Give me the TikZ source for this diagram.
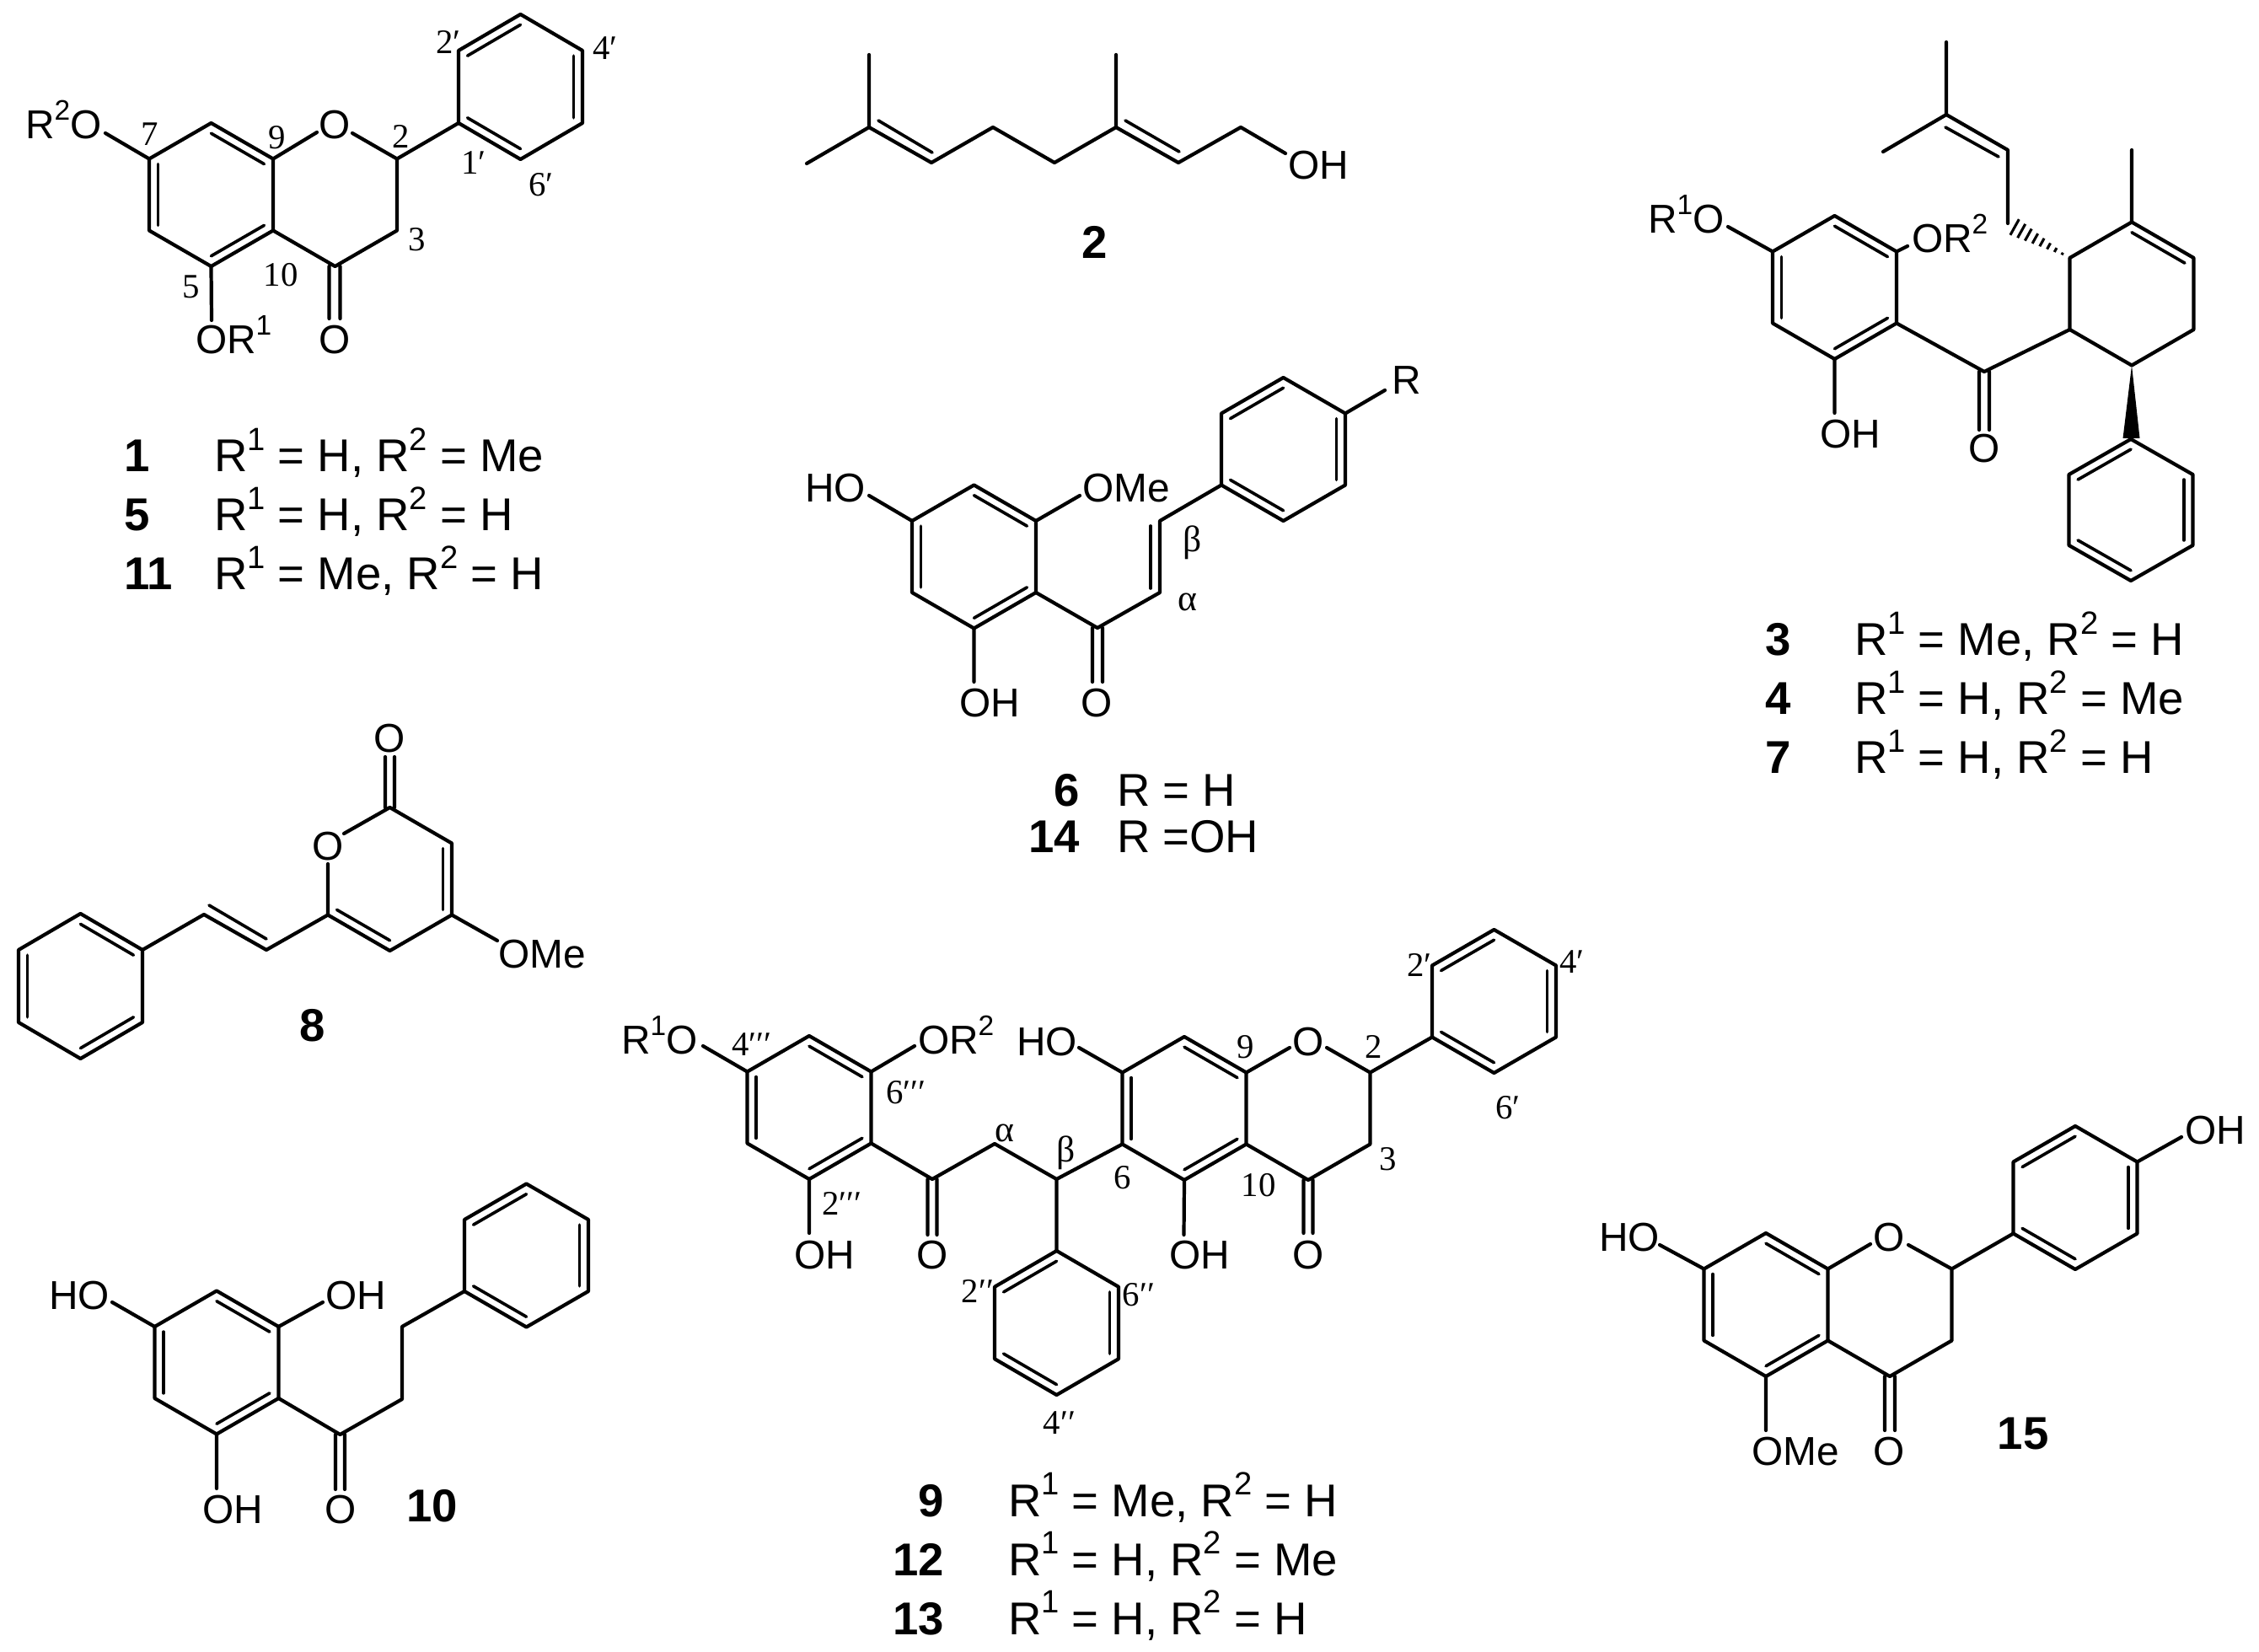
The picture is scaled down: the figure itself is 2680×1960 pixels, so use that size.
\documentclass[tikz,border=0pt]{standalone}
\usepackage{fontspec}
\setmainfont{Liberation Sans}
\newfontfamily\numfont{Liberation Serif}
\usetikzlibrary{calc}
\tikzset{
  bond/.style={line width=1.5pt,line cap=round,line join=round},
  inbond/.style={line width=1.3pt,line cap=round},
  atomtext/.style={inner sep=0pt,outer sep=0pt,font=\fontsize{17}{17}\selectfont},
  legendtext/.style={inner sep=0pt,outer sep=0pt,anchor=base west,font=\fontsize{19.4}{19.4}\selectfont},
  cmpd/.style={inner sep=0pt,outer sep=0pt,font=\fontsize{19.4}{19.4}\selectfont\bfseries},
  locant/.style={inner sep=0pt,outer sep=0pt,anchor=base,font=\fontsize{14.5}{14.5}\selectfont\numfont},
  greek/.style={inner sep=0pt,outer sep=0pt,anchor=base,font=\fontsize{15.5}{15.5}\selectfont\numfont}
}
\newcommand\chemsup[1]{\raisebox{.46em}{\scalebox{.7}{#1}}}
\newcommand\pts[1]{\foreach \n/\xx/\yy in {#1}{\coordinate (\n) at (\xx,\yy);}}
% hexagon vertices: 1 top, 2 upper right, 3 lower right, 4 bottom, 5 lower left, 6 upper left
\newcommand\hexpts[4][85]{%
  \coordinate (#2C) at (#3,#4);
  \coordinate (#21) at (#3,#4-#1);
  \coordinate (#22) at (#3+73.5,#4-#1/2);
  \coordinate (#23) at (#3+73.5,#4+#1/2);
  \coordinate (#24) at (#3,#4+#1);
  \coordinate (#25) at (#3-73.5,#4+#1/2);
  \coordinate (#26) at (#3-73.5,#4-#1/2);}
\newcommand\hexring[4][85]{\hexpts[#1]{#2}{#3}{#4}%
  \draw[bond] (#21)--(#22)--(#23)--(#24)--(#25)--(#26)--cycle;}
\newcommand\inb[3]{\draw[inbond] ($(#1#2)!.144!(#1C)$) -- ($(#1#3)!.144!(#1C)$);}
\newcommand\kekA[1]{\inb{#1}{1}{2}\inb{#1}{3}{4}\inb{#1}{5}{6}}
\newcommand\kekB[1]{\inb{#1}{6}{1}\inb{#1}{2}{3}\inb{#1}{4}{5}}
\newcommand\atomW[4]{\node[atomtext,anchor=base west] (#1) at (#2,#3) {#4};}
\newcommand\atomC[4]{\node[atomtext,anchor=base] (#1) at (#2,#3) {#4};}
\newcommand\loc[4]{\node[locant] (#1) at (#2,#3) {#4};}
\newcommand\gr[4]{\node[greek] (#1) at (#2,#3) {#4};}
\begin{document}
\begin{tikzpicture}[x=0.0125cm,y=-0.0125cm]
\useasboundingbox (0,0) rectangle (2680,1960);
\fill[white] (0,0) rectangle (2680,1960);

% ---------- 1 ----------
\hexring{oa}{250.5}{231}\kekA{oa}
\hexpts{ob}{397.5}{231}
\hexring[86]{op}{617.5}{103}\kekB{op}
\pts{oe7/125/158,oe9/376/157,oe2/418/158,oe5/251/380,oo1/390.5/316,oo2/403.5/316,oo3/390.5/378,oo4/403.5/378}
\draw[bond] (oa6)--(oe7) (oa2)--(oe9) (ob2)--(oe2) (oa3)--(ob4)--(ob3)--(ob2)--(op5) (oa4)--(oe5) (oo1)--(oo3) (oo2)--(oo4);
\atomW{oR2O}{30}{165}{R\chemsup{2}O}
\atomW{oOR1}{232}{420}{OR\chemsup{1}}
\atomC{oO4}{397}{420}{O}
\atomC{oO1}{397}{165}{O}
\loc{ol7}{178}{173}{7}\loc{ol9}{329}{177}{9}\loc{ol2}{476}{176}{2}\loc{ol3}{495}{298}{3}
\loc{ol10}{333}{340}{10}\loc{ol5}{227}{354}{5}
\loc{ol1p}{562}{207}{1′}\loc{ol2p}{532}{64}{2′}\loc{ol4p}{718}{71}{4′}\loc{ol6p}{642}{233}{6′}
\node[cmpd,anchor=base west] (c1) at (147,560) {1};
\node[cmpd,anchor=base west] (c5) at (147,630) {5};
\node[cmpd,anchor=base west] (c11) at (147,700) {11};
\node[legendtext] (t1) at (254,560) {R\chemsup{1} = H, R\chemsup{2} = Me};
\node[legendtext] (t5) at (254,630) {R\chemsup{1} = H, R\chemsup{2} = H};
\node[legendtext] (t11) at (254,700) {R\chemsup{1} = Me, R\chemsup{2} = H};

% ---------- 2 ----------
\pts{ga/1031/65,gb/1031/151,gc/957/194,gd/1105/193,ge/1178/151,gf/1251/193,gg/1324/151,gh/1324/65,gi/1398/193,gj/1472/151,gk/1525/182,gm/1042/143,gn/1106/181,gp/1335/143,gq/1399/180}
\draw[bond] (ga)--(gb)--(gc) (gb)--(gd)--(ge)--(gf)--(gg)--(gh) (gg)--(gi)--(gj)--(gk);
\draw[inbond] (gm)--(gn) (gp)--(gq);
\atomW{gOH}{1528}{213}{OH}
\node[cmpd,anchor=base] (c2) at (1299,307) {2};

% ---------- 3 ----------
\hexring{ta}{2176.5}{341}\kekA{ta}
\hexring{tc}{2529}{348.5}\inb{tc}{1}{2}
\hexring[84]{tp}{2528}{605}\kekB{tp}
\pts{tm1/2309/50,tm2/2309/136,tm3/2234/180,tm4/2382/178,tm5/2382/265,tm6/2308/151,tm7/2371/186,tm8/2529/178,tco/2354/441,te1/2050/269,te2/2263/292,te3/2176.5/490,to1/2348/441,to2/2360/441,to3/2348/510,to4/2360/510,tw1/2518.5/520,tw2/2538.5/520}
\draw[bond] (tm1)--(tm2)--(tm3) (tm2)--(tm4)--(tm5) (tm8)--(tc1) (ta3)--(tco)--(tc5) (ta6)--(te1) (ta2)--(te2) (ta4)--(te3) (to1)--(to3) (to2)--(to4);
\draw[inbond] (tm6)--(tm7);
\fill (tc4)--(tw1)--(tw2)--cycle;
\foreach \t [evaluate=\t as \w using \t*0.15] in {0.12,0.23,0.34,0.45,0.56,0.67,0.78,0.89,1.0}
  \draw[line width=1.1pt] ($(tc6)!\t!(tm5)!\w cm!90:(tm5)$) -- ($(tc6)!\t!(tm5)!\w cm!-90:(tm5)$);
\atomC{tO}{2354}{549}{O}
\atomW{tOH}{2159}{532}{OH}
\atomW{tOR2}{2268}{300}{OR\chemsup{2}}
\atomW{tR1O}{1955}{277}{R\chemsup{1}O}
\node[cmpd,anchor=base west] (c3) at (2094,778) {3};
\node[cmpd,anchor=base west] (c4) at (2094,848) {4};
\node[cmpd,anchor=base west] (c7) at (2094,918) {7};
\node[legendtext] (t3) at (2200,778) {R\chemsup{1} = Me, R\chemsup{2} = H};
\node[legendtext] (t4) at (2200,848) {R\chemsup{1} = H, R\chemsup{2} = Me};
\node[legendtext] (t7) at (2200,918) {R\chemsup{1} = H, R\chemsup{2} = H};

% ---------- 6 / 14 ----------
\hexring{sa}{1155.5}{660.5}\kekA{sa}
\hexring{sp}{1522.5}{533}\kekB{sp}
\pts{sco/1302/745,sca/1376/703,scb/1376/618,si1/1365/624,si2/1365/698,se1/1643/463,se2/1031/588,se3/1281/588,se4/1155.5/809,so1/1296/745,so2/1308/745,so3/1296/809,so4/1308/809}
\draw[bond] (sa3)--(sco)--(sca)--(scb)--(sp5) (sp2)--(se1) (sa6)--(se2) (sa2)--(se3) (sa4)--(se4) (so1)--(so3) (so2)--(so4);
\draw[inbond] (si1)--(si2);
\atomW{sR}{1651}{468}{R}
\atomW{sHO}{955}{596}{HO}
\atomW{sOMe}{1284}{596}{OMe}
\atomW{sOH}{1138}{851}{OH}
\atomC{sO}{1301}{851}{O}
\gr{sb}{1415}{655}{β}\gr{sg}{1409}{725}{α}
\node[cmpd,anchor=base east] (c6) at (1281,957) {6};
\node[cmpd,anchor=base east] (c14) at (1281,1012) {14};
\node[legendtext] (t6) at (1325,957) {R = H};
\node[legendtext] (t14) at (1325,1012) {R =OH};

% ---------- 8 ----------
\hexring[86]{ep}{95.5}{1170}\kekA{ep}
\hexpts{eh}{462.5}{1043}
\pts{ev1/242/1085,ev2/316/1127,ev3/248/1074,ev4/316/1114,ee1/389/1025,ee2/408/989,ee3/590/1116,eo1/457/958,eo2/468/958,eo3/457/898,eo4/468/898}
\draw[bond] (ep2)--(ev1)--(ev2)--(eh5)--(ee1) (ee2)--(eh1)--(eh2)--(eh3)--(eh4)--(eh5) (eh3)--(ee3) (eo1)--(eo3) (eo2)--(eo4);
\draw[inbond] (ev3)--(ev4);
\inb{eh}{2}{3}\inb{eh}{4}{5}
\atomC{eO1}{389}{1020}{O}
\atomC{eO2}{462}{893}{O}
\atomW{eOMe}{591}{1148}{OMe}
\node[cmpd,anchor=base] (c8) at (371,1235) {8};

% ---------- 10 ----------
\hexring{da}{257}{1616.5}\kekA{da}
\hexring{dp}{624.5}{1489.5}\kekB{dp}
\pts{de1/133/1545,de2/383/1545,de3/257/1766,dco/403.5/1702,dc1/477/1660,dc2/477/1574,do1/398/1702,do2/409/1702,do3/398/1767,do4/409/1767}
\draw[bond] (da6)--(de1) (da2)--(de2) (da4)--(de3) (da3)--(dco)--(dc1)--(dc2)--(dp5) (do1)--(do3) (do2)--(do4);
\atomW{dHO}{58}{1553}{HO}
\atomW{dOHa}{386}{1553}{OH}
\atomW{dOHb}{240}{1807}{OH}
\atomC{dO}{404}{1807}{O}
\node[cmpd,anchor=base] (c10) at (513,1805) {10};

% ---------- 9 / 12 / 13 ----------
\hexring{na}{960}{1314}\kekA{na}
\hexring[85.5]{np}{1253.5}{1569.5}\kekB{np}
\hexring{nb}{1405}{1315}\kekA{nb}
\hexpts{nd}{1552}{1315}
\hexring{nq}{1772.5}{1188}\kekB{nq}
\pts{ne1/834/1241,ne2/1085/1241,ne3/960/1463,nco/1106/1399,nca/1180/1357,ncb/1253.5/1399,no1/1100.5/1399,no2/1111.5/1399,no3/1100.5/1465,no4/1111.5/1465,ne5/1280/1243,ne6/1530/1243,ne7/1574/1243,ne8/1404.5/1465,nr1/1546.5/1400,nr2/1557.5/1400,nr3/1546.5/1463,nr4/1557.5/1463}
\draw[bond] (na6)--(ne1) (na2)--(ne2) (na4)--(ne3) (na3)--(nco)--(nca)--(ncb)--(nb5) (ncb)--(np1) (no1)--(no3) (no2)--(no4);
\draw[bond] (nb6)--(ne5) (nb2)--(ne6) (nd2)--(ne7) (nb3)--(nd4)--(nd3)--(nd2)--(nq5) (nb4)--(ne8) (nr1)--(nr3) (nr2)--(nr4);
\atomW{nR1O}{737}{1250}{R\chemsup{1}O}
\atomW{nOR2}{1089}{1250}{OR\chemsup{2}}
\atomW{nOHa}{942}{1505}{OH}
\atomC{nOa}{1106}{1505}{O}
\atomW{nHO}{1206}{1252}{HO}
\atomC{nO1}{1552}{1252}{O}
\atomW{nOHb}{1387}{1505}{OH}
\atomC{nOb}{1552}{1505}{O}
\loc{nl1}{892}{1252}{4′′′}\loc{nl2}{1075}{1309}{6′′′}\loc{nl3}{999}{1441}{2′′′}
\gr{nl4}{1192}{1354}{α}\gr{nl5}{1265}{1378}{β}
\loc{nl6}{1160}{1545}{2′′}\loc{nl7}{1351}{1549}{6′′}\loc{nl8}{1257}{1701}{4′′}
\loc{nl9}{1478}{1255}{9}\loc{nl10}{1630}{1255}{2}\loc{nl11}{1647}{1388}{3}\loc{nl12}{1493}{1419}{10}\loc{nl13}{1332}{1410}{6}
\loc{nl14}{1684}{1158}{2′}\loc{nl15}{1865}{1154}{4′}\loc{nl16}{1789}{1327}{6′}
\node[cmpd,anchor=base east] (c9) at (1120,1799) {9};
\node[cmpd,anchor=base east] (c12) at (1120,1869) {12};
\node[cmpd,anchor=base east] (c13) at (1120,1939) {13};
\node[legendtext] (t9) at (1196,1799) {R\chemsup{1} = Me, R\chemsup{2} = H};
\node[legendtext] (t12) at (1196,1869) {R\chemsup{1} = H, R\chemsup{2} = Me};
\node[legendtext] (t13) at (1196,1939) {R\chemsup{1} = H, R\chemsup{2} = H};

% ---------- 15 ----------
\hexring{fa}{2095}{1548}\kekA{fa}
\hexpts{fb}{2242}{1548}
\hexring{fp}{2462}{1421}\kekB{fp}
\pts{fe1/1969/1477,fe2/2219/1476,fe3/2264/1477,fe4/2095/1697,fe5/2588/1349,fo1/2236/1633,fo2/2248/1633,fo3/2236/1697,fo4/2248/1697}
\draw[bond] (fa6)--(fe1) (fa2)--(fe2) (fb2)--(fe3) (fa3)--(fb4)--(fb3)--(fb2)--(fp5) (fa4)--(fe4) (fp2)--(fe5) (fo1)--(fo3) (fo2)--(fo4);
\atomW{fHO}{1897}{1484}{HO}
\atomC{fO1}{2241}{1484}{O}
\atomC{fO4}{2241}{1738}{O}
\atomW{fOMe}{2078}{1738}{OMe}
\atomW{fOH}{2592}{1357}{OH}
\node[cmpd,anchor=base] (c15) at (2400,1719) {15};
\end{tikzpicture}
\end{document}
